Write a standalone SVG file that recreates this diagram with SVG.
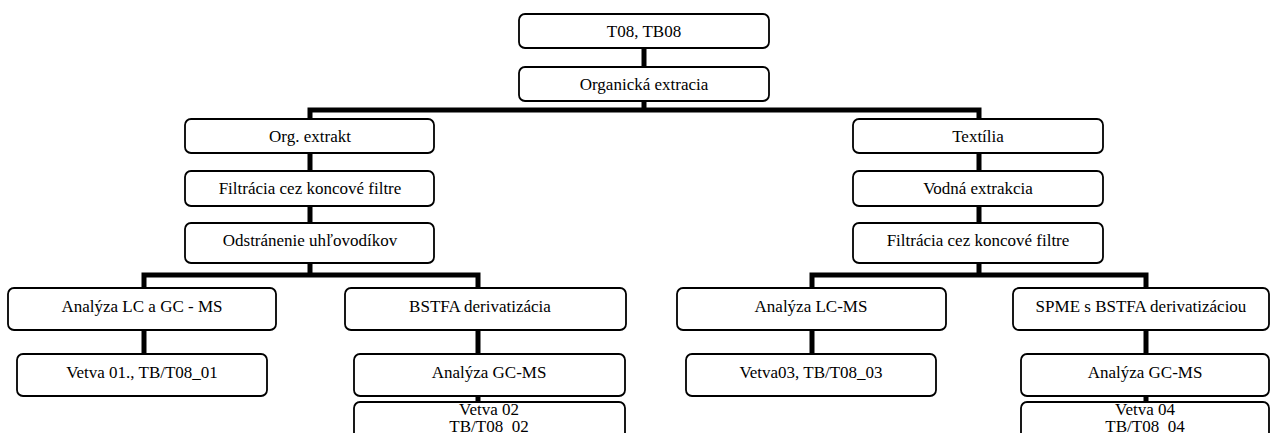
<svg xmlns="http://www.w3.org/2000/svg" width="1271" height="433" viewBox="0 0 1271 433">
<style>
.b{fill:#fff;stroke:#000;stroke-width:1.8}
.t{font-family:'Liberation Serif','Times New Roman',Times,serif;font-size:17px;fill:#000;text-anchor:middle}
.c{fill:none;stroke:#000;stroke-width:5;stroke-linecap:butt;stroke-linejoin:miter}
</style>
<rect width="1271" height="433" fill="#fff"/>
<g id="connectors">
<path class="c" d="M644,48V67"/>
<path class="c" d="M644,101V110M310,119V110H979V119"/>
<path class="c" d="M310,153V171M310,206V223"/>
<path class="c" d="M979,153V171M979,206V223"/>
<path class="c" d="M310,263V275M144,288V275H478V288"/>
<path class="c" d="M144,330V354M478,330V354M478,396V402"/>
<path class="c" d="M979,263V275M812,288V275H1146V288"/>
<path class="c" d="M812,330V354M1146,330V354M1146,396V402"/>
</g>
<g id="n1"><rect class="b" x="519" y="14" width="250" height="34" rx="6"/><text class="t" x="644" y="37">T08, TB08</text></g>
<g id="n2"><rect class="b" x="519" y="67" width="250" height="34" rx="6"/><text class="t" x="644" y="90">Organická extracia</text></g>
<g id="n3"><rect class="b" x="185" y="119" width="249" height="34" rx="6"/><text class="t" x="310" y="142">Org. extrakt</text></g>
<g id="n4"><rect class="b" x="185" y="171" width="249" height="35" rx="6"/><text class="t" x="310" y="194">Filtrácia cez koncové filtre</text></g>
<g id="n5"><rect class="b" x="185" y="223" width="249" height="40" rx="6"/><text class="t" x="310" y="246">Odstránenie uhľovodíkov</text></g>
<g id="n6"><rect class="b" x="853" y="119" width="250" height="34" rx="6"/><text class="t" x="978" y="142">Textília</text></g>
<g id="n7"><rect class="b" x="853" y="171" width="250" height="35" rx="6"/><text class="t" x="978" y="194">Vodná extrakcia</text></g>
<g id="n8"><rect class="b" x="853" y="223" width="250" height="40" rx="6"/><text class="t" x="978" y="246">Filtrácia cez koncové filtre</text></g>
<g id="n9"><rect class="b" x="8" y="288" width="268" height="42" rx="6"/><text class="t" x="142" y="312">Analýza LC a GC - MS</text></g>
<g id="n10"><rect class="b" x="345" y="288" width="281" height="42" rx="6"/><text class="t" x="480" y="312">BSTFA derivatizácia</text></g>
<g id="n11"><rect class="b" x="17" y="354" width="250" height="42" rx="6"/><text class="t" x="142" y="378">Vetva 01., TB/T08_01</text></g>
<g id="n12"><rect class="b" x="354" y="354" width="271" height="42" rx="6"/><text class="t" x="489" y="378">Analýza GC-MS</text></g>
<g id="n13"><rect class="b" x="354" y="402" width="271" height="45" rx="6"/><text class="t" x="489" y="415">Vetva 02</text><text class="t" x="489" y="432">TB/T08_02</text></g>
<g id="n14"><rect class="b" x="677" y="288" width="269" height="42" rx="6"/><text class="t" x="811" y="312">Analýza LC-MS</text></g>
<g id="n15"><rect class="b" x="1013" y="288" width="256" height="42" rx="6"/><text class="t" x="1141" y="312">SPME s BSTFA derivatizáciou</text></g>
<g id="n16"><rect class="b" x="686" y="354" width="250" height="42" rx="6"/><text class="t" x="811" y="378">Vetva03, TB/T08_03</text></g>
<g id="n17"><rect class="b" x="1021" y="354" width="248" height="42" rx="6"/><text class="t" x="1145" y="378">Analýza GC-MS</text></g>
<g id="n18"><rect class="b" x="1021" y="402" width="248" height="45" rx="6"/><text class="t" x="1145" y="415">Vetva 04</text><text class="t" x="1145" y="432">TB/T08_04</text></g>
</svg>
